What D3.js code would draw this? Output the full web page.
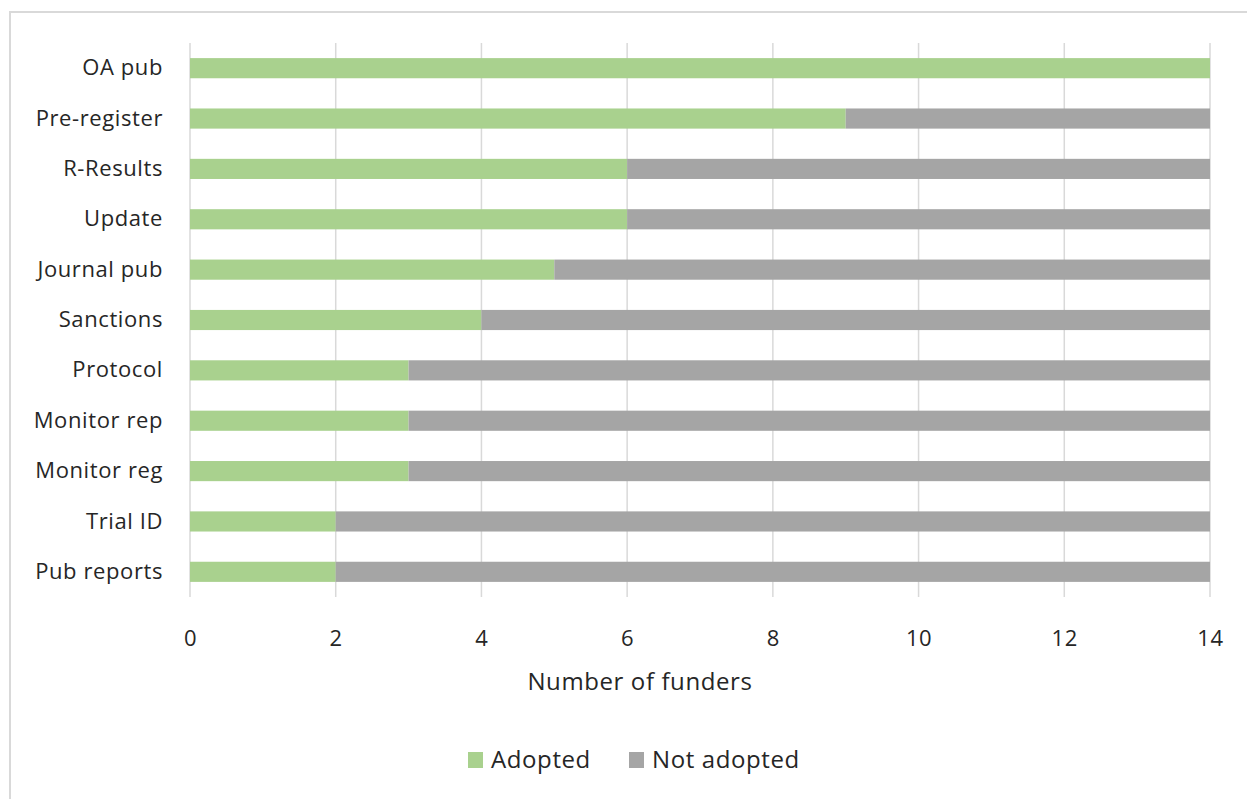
<!DOCTYPE html>
<html>
<head>
<meta charset="utf-8">
<script src="https://cdn.jsdelivr.net/npm/d3@7"></script>
<style>
  body { margin: 0; background: #fff; }
  svg text { font-family: "Open Sans", "Noto Sans", sans-serif; fill: #262626; letter-spacing: 0.6px; }
</style>
</head>
<body>
<script>
// categories, top to bottom
var categories = ["OA pub", "Pre-register", "R-Results", "Update", "Journal pub", "Sanctions",
                  "Protocol", "Monitor rep", "Monitor reg", "Trial ID", "Pub reports"];
var adopted    = [14, 9, 6, 6, 5, 4, 3, 3, 3, 2, 2];
var notAdopted = [0, 5, 8, 8, 9, 10, 11, 11, 11, 12, 12];
var seriesNames = ["Adopted", "Not adopted"];
var seriesColors = ["#a9d18e", "#a5a5a5"];
var xTicks = [0, 2, 4, 6, 8, 10, 12, 14];

var W = 1247, H = 799;
var margin = {top: 43, right: 37, bottom: 202, left: 190};
var width = W - margin.left - margin.right;
var height = H - margin.top - margin.bottom;

var svg = d3.select("body").append("svg")
    .attr("width", W)
    .attr("height", H);

// chart border
svg.append("rect")
    .attr("x", 10).attr("y", 12)
    .attr("width", W + 20).attr("height", H + 20)
    .attr("fill", "none")
    .attr("stroke", "#d9d9d9")
    .attr("stroke-width", 2);

var g = svg.append("g")
    .attr("transform", "translate(" + margin.left + "," + margin.top + ")");

var xScale = d3.scaleLinear().domain([0, 14]).range([0, width]);
var yScale = d3.scaleBand().domain(categories).range([0, height]).paddingInner(0.6).paddingOuter(0.3);

// vertical gridlines
g.append("g")
    .selectAll("line")
    .data(xTicks)
  .enter().append("line")
    .attr("x1", function(d) { return xScale(d); })
    .attr("x2", function(d) { return xScale(d); })
    .attr("y1", 0)
    .attr("y2", height)
    .attr("stroke", "#d9d9d9")
    .attr("stroke-width", 1.5);

var rows = categories.map(function(c, i) {
    return {cat: c, Adopted: adopted[i], "Not adopted": notAdopted[i]};
});
var stacked = d3.stack().keys(seriesNames)(rows);

g.selectAll(".series")
    .data(stacked)
  .enter().append("g")
    .attr("class", "series")
    .attr("fill", function(d, i) { return seriesColors[i]; })
  .selectAll("rect")
    .data(function(d) { return d; })
  .enter().append("rect")
    .attr("x", function(d) { return xScale(d[0]); })
    .attr("y", function(d) { return yScale(d.data.cat); })
    .attr("width", function(d) { return xScale(d[1]) - xScale(d[0]); })
    .attr("height", yScale.bandwidth());

// y labels
var yAxis = d3.axisLeft(yScale).tickSize(0).tickPadding(27);
var gy = g.append("g").call(yAxis);
gy.select(".domain").remove();
gy.selectAll("text").style("font-size", "22px").attr("fill", "#262626");

// x labels
var xAxis = d3.axisBottom(xScale).tickValues(xTicks).tickSize(0).tickPadding(33);
var gx = g.append("g").attr("transform", "translate(0," + height + ")").call(xAxis);
gx.select(".domain").remove();
gx.selectAll("text").style("font-size", "22px").attr("fill", "#262626");

// axis title
svg.append("text")
    .attr("x", 640)
    .attr("y", 690)
    .attr("text-anchor", "middle")
    .style("font-size", "24px")
    .text("Number of funders");

// legend
var legendX = [468, 629];
var legend = svg.selectAll(".legend")
    .data(seriesNames)
  .enter().append("g")
    .attr("class", "legend")
    .attr("transform", function(d, i) { return "translate(" + legendX[i] + ",752)"; });

legend.append("rect")
    .attr("width", 15).attr("height", 16)
    .attr("fill", function(d, i) { return seriesColors[i]; });

legend.append("text")
    .attr("x", 23)
    .attr("y", 8)
    .attr("dy", "0.35em")
    .style("font-size", "24px")
    .text(function(d) { return d; });
</script>
</body>
</html>
